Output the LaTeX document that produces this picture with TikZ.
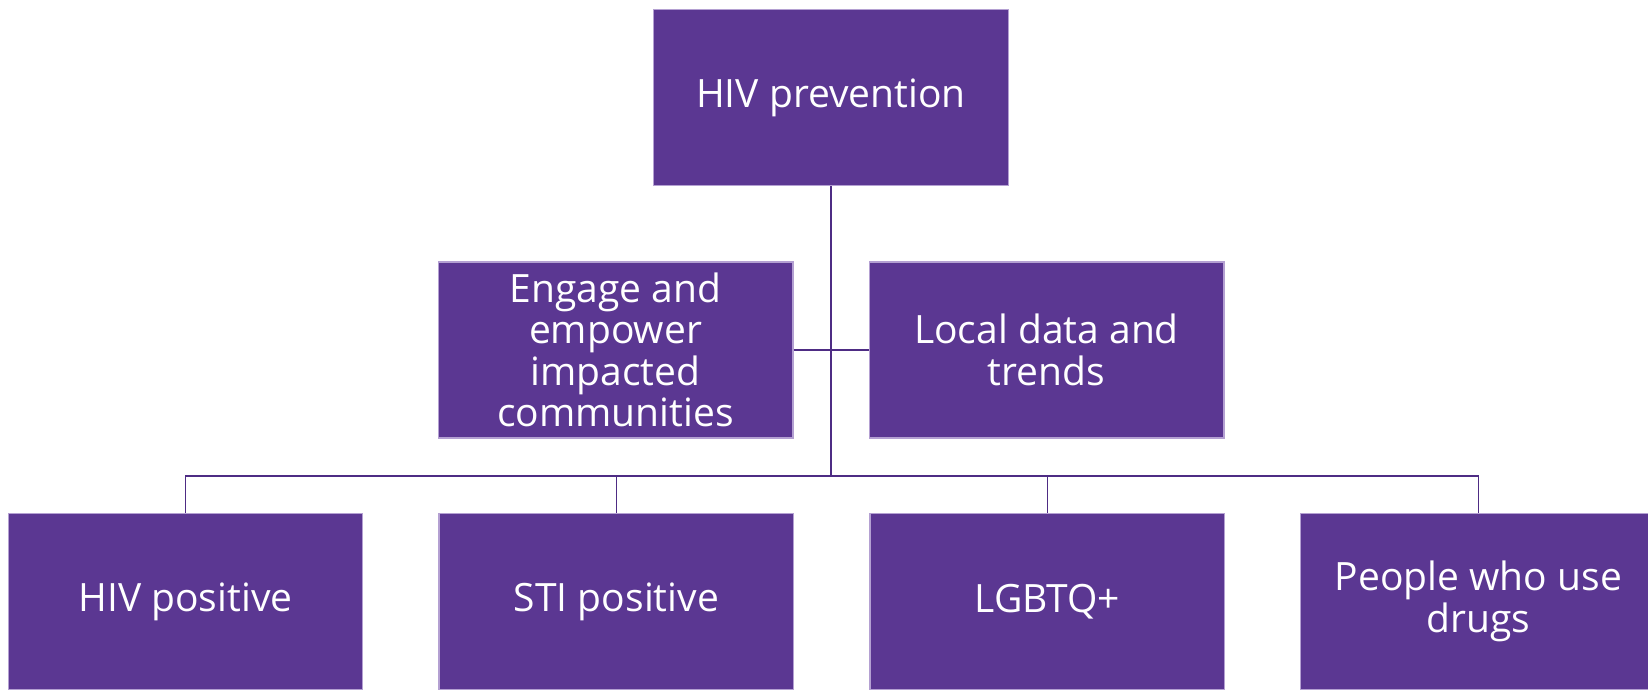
\documentclass[tikz,border=0pt]{standalone}
\usepackage{fontspec}
\setmainfont{Open Sans}
\usepackage{tikz}
\usetikzlibrary{positioning, calc}
\definecolor{hivpurple}{RGB}{91,55,146}
\definecolor{hivedge}{RGB}{180,160,210}
\definecolor{hivline}{RGB}{78,44,132}
\tikzstyle{orgbox} = [rectangle, draw=hivedge, line width=0.6pt, fill=hivpurple,
                      minimum width=7.1cm, minimum height=3.52cm, inner sep=0pt,
                      text=white, align=center, font=\fontsize{22.2}{23.6}\selectfont]
\tikzstyle{link}   = [draw=hivline, line width=0.6pt]

\begin{document}
\begin{tikzpicture}[x=0.02cm, y=-0.02cm]
  \useasboundingbox (0,0) rectangle (1648,689);

  % top of the chart
  \node[orgbox] (prev) at (831,97.5) {HIV prevention};

  % assistant boxes beside the trunk
  \node[orgbox] (engage) at (615.5,350) {Engage and\\empower\\impacted\\communities};
  \node[orgbox] (local)  at (1046.5,350) {Local data and\\trends};

  % bottom row
  \node[orgbox] (hivpos) at (185.5,601.5) {HIV positive};
  \node[orgbox, right=1.5cm of hivpos] (stipos) {STI positive};
  \node[orgbox, right=1.5cm of stipos] (lgbtq) {LGBTQ+};
  \node[orgbox, right=1.5cm of lgbtq] (pwud) {People who use\\drugs};

  \coordinate (bus) at (831,476);

  \draw[link, line width=1.1pt] (prev.south) -- (bus);
  \draw[link] (engage.east) -- (local.west);
  \draw[link] (hivpos.north) |- (bus) -| (pwud.north);
  \draw[link] (stipos.north) -- (stipos.north |- bus);
  \draw[link] (lgbtq.north) -- (lgbtq.north |- bus);
\end{tikzpicture}
\end{document}
